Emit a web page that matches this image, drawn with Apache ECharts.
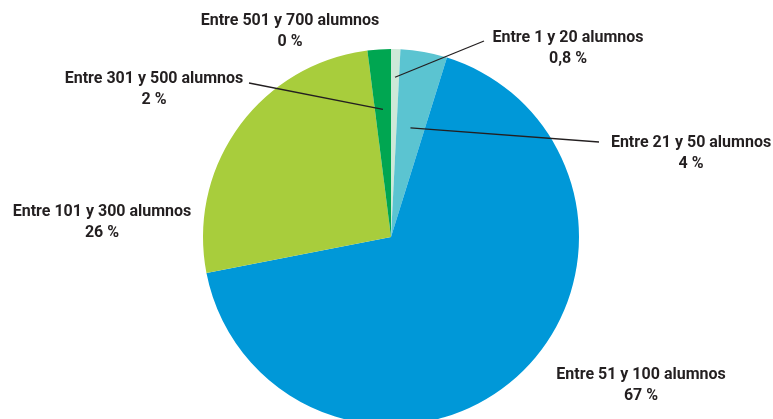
<!DOCTYPE html>
<html>
<head>
<meta charset="utf-8">
<title>Alumnos</title>
<script src="https://cdn.jsdelivr.net/npm/echarts@6/dist/echarts.min.js"></script>
<style>
  html, body { margin: 0; padding: 0; background: #ffffff; }
  #chart { width: 773px; height: 419px; }
</style>
</head>
<body>
<div id="chart"></div>
<script>
// datos del gráfico
var categorias = [
  "Entre 1 y 20 alumnos",
  "Entre 21 y 50 alumnos",
  "Entre 51 y 100 alumnos",
  "Entre 101 y 300 alumnos",
  "Entre 301 y 500 alumnos",
  "Entre 501 y 700 alumnos"
];
var porcentajes = [0.8, 4, 67, 26, 2, 0];
var etiquetasPct = ["0,8 %", "4 %", "67 %", "26 %", "2 %", "0 %"];

var colores = ["#cde8d8", "#5bc4d1", "#0098d8", "#a8cd3c", "#00a651", "#8a8a8a"];

// posición de cada etiqueta (centro del bloque de texto)
var posEtiquetas = [
  [568, 48], [691, 153], [641, 385], [102, 222], [154, 89], [290, 31]
];
// líneas guía: fracción del radio donde empieza, y punto final junto al texto
var guiaRadio = [0.85, 0.59, null, null, 0.68, null];
var guiaFin = [[484, 41], [599, 142], null, null, [249, 83], null];

var centro = [391, 237];
var radio = 188;

var total = porcentajes.reduce(function (a, b) { return a + b; }, 0);
function anguloMedio(i) {
  var acc = 0;
  for (var k = 0; k < i; k++) acc += porcentajes[k];
  return ((acc + porcentajes[i] / 2) / total) * 2 * Math.PI;
}

var myChart = echarts.init(document.getElementById("chart"));

// sectores de color
var datosSectores = categorias.map(function (c, i) {
  return { name: c, value: porcentajes[i], itemStyle: { color: colores[i] } };
});
// misma serie, transparente, encima, solo para textos y líneas guía
var datosEtiquetas = categorias.map(function (c, i) {
  return { name: c, value: porcentajes[i], labelLine: { show: guiaRadio[i] !== null } };
});

var option = {
  animation: false,
  series: [
    {
      type: "pie",
      z: 2,
      center: centro,
      radius: radio,
      startAngle: 90,
      clockwise: true,
      silent: true,
      itemStyle: { borderWidth: 0 },
      label: { show: false },
      labelLine: { show: false },
      data: datosSectores
    },
    {
      type: "pie",
      z: 5,
      center: centro,
      radius: radio,
      startAngle: 90,
      clockwise: true,
      avoidLabelOverlap: false,
      silent: true,
      itemStyle: { color: "rgba(0,0,0,0)", borderWidth: 0 },
      label: {
        show: true,
        position: "outside",
        formatter: function (p) {
          return p.name + "\n" + etiquetasPct[p.dataIndex];
        },
        fontFamily: "Roboto, sans-serif",
        fontWeight: "bold",
        fontSize: 16,
        lineHeight: 21,
        color: "#231f20",
        align: "center"
      },
      labelLine: {
        show: true,
        showAbove: true,
        lineStyle: { color: "#231f20", width: 1.3 }
      },
      labelLayout: function (params) {
        var i = params.dataIndex;
        var out = {
          x: posEtiquetas[i][0],
          y: posEtiquetas[i][1],
          align: "center",
          verticalAlign: "middle"
        };
        if (guiaRadio[i] !== null) {
          var a = anguloMedio(i);
          var r = radio * guiaRadio[i];
          var x0 = centro[0] + r * Math.sin(a);
          var y0 = centro[1] - r * Math.cos(a);
          out.labelLinePoints = [[x0, y0], guiaFin[i]];
        }
        return out;
      },
      data: datosEtiquetas
    }
  ]
};

if (option && typeof option === "object") {
  myChart.setOption(option);
}
</script>
</body>
</html>
